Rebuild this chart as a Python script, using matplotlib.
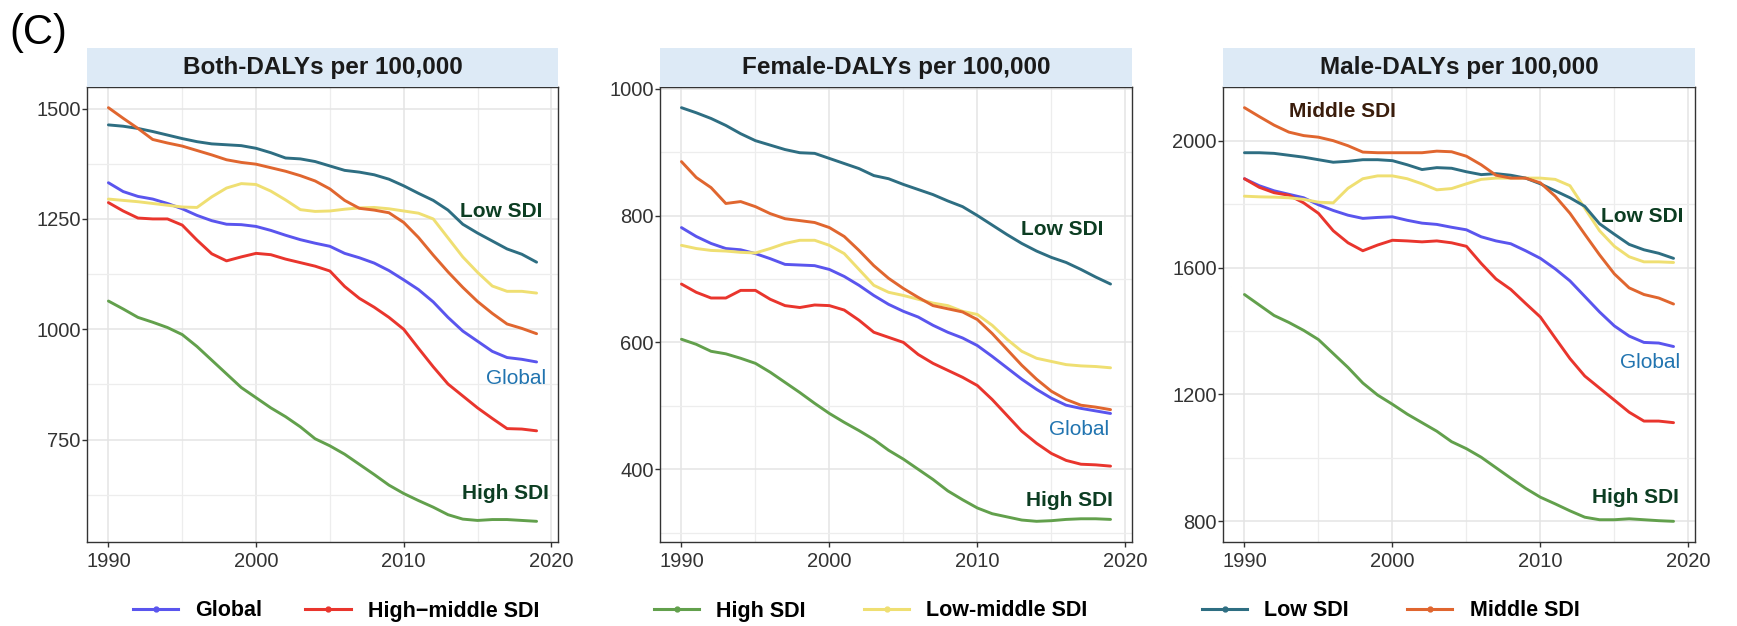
"""Three-panel DALY trend chart (both / female / male) by SDI group, 1990-2019."""

import matplotlib

matplotlib.use("Agg")
import matplotlib.pyplot as plt  # noqa: E402
from matplotlib.lines import Line2D  # noqa: E402

plt.rcParams["font.family"] = ["Liberation Sans", "DejaVu Sans"]

YEARS = list(range(1990, 2020))
SERIES = ["Global", "High\u2212middle SDI", "High SDI", "Low-middle SDI", "Low SDI", "Middle SDI"]
COLORS = ["#5A55EE", "#E9352D", "#62A04C", "#EFDF72", "#2E6E82", "#E0662F"]

# Both sexes, DALYs per 100,000
BOTH_GLOBAL = [1332, 1312, 1301, 1295, 1285, 1273, 1258, 1246, 1238, 1237,
               1233, 1224, 1213, 1203, 1195, 1188, 1172, 1162, 1150, 1133,
               1112, 1090, 1062, 1027, 996, 973, 950, 936, 932, 926]
BOTH_HIGH_MIDDLE = [1287, 1268, 1252, 1250, 1250, 1236, 1202, 1171, 1155, 1164,
                    1172, 1169, 1159, 1151, 1143, 1132, 1097, 1070, 1050, 1027,
                    1000, 957, 915, 876, 849, 822, 798, 775, 774, 770]
BOTH_HIGH = [1064, 1046, 1027, 1016, 1004, 988, 961, 930, 899, 868,
             845, 822, 802, 779, 752, 736, 717, 694, 671, 647,
             628, 612, 597, 580, 570, 567, 569, 569, 567, 565]
BOTH_LOW_MIDDLE = [1295, 1292, 1289, 1285, 1281, 1277, 1276, 1300, 1320, 1330,
                   1328, 1313, 1293, 1271, 1267, 1268, 1272, 1275, 1276, 1273,
                   1268, 1263, 1250, 1207, 1164, 1129, 1098, 1086, 1086, 1082]
BOTH_LOW = [1463, 1460, 1455, 1448, 1440, 1432, 1425, 1420, 1418, 1416,
            1410, 1400, 1388, 1386, 1380, 1370, 1360, 1356, 1350, 1340,
            1325, 1308, 1292, 1270, 1238, 1218, 1200, 1182, 1170, 1152]
BOTH_MIDDLE = [1502, 1478, 1455, 1430, 1422, 1415, 1405, 1395, 1384, 1378,
               1374, 1366, 1358, 1348, 1336, 1318, 1292, 1274, 1270, 1264,
               1242, 1208, 1168, 1130, 1095, 1063, 1036, 1012, 1002, 990]

# Female
FEMALE_GLOBAL = [781, 767, 756, 748, 746, 740, 732, 723, 722, 721,
                 715, 704, 690, 674, 660, 649, 640, 627, 616, 607,
                 595, 578, 560, 542, 526, 512, 501, 496, 492, 488]
FEMALE_HIGH_MIDDLE = [692, 679, 670, 670, 682, 682, 668, 658, 655, 659,
                      658, 651, 635, 616, 608, 600, 581, 567, 556, 545,
                      532, 510, 485, 460, 441, 425, 414, 408, 407, 405]
FEMALE_HIGH = [605, 597, 586, 582, 575, 567, 553, 537, 521, 504,
               488, 474, 461, 447, 430, 416, 400, 384, 366, 352,
               339, 330, 325, 320, 318, 319, 321, 322, 322, 321]
FEMALE_LOW_MIDDLE = [753, 748, 745, 744, 742, 741, 748, 756, 761, 761,
                     753, 740, 715, 690, 679, 674, 668, 662, 658, 649,
                     644, 627, 605, 586, 575, 570, 565, 563, 562, 560]
FEMALE_LOW = [970, 962, 953, 942, 929, 918, 911, 904, 899, 898,
              890, 882, 874, 863, 858, 849, 841, 833, 823, 814,
              800, 785, 770, 756, 744, 734, 726, 715, 703, 692]
FEMALE_MIDDLE = [885, 860, 844, 819, 822, 814, 803, 795, 792, 789,
                 781, 767, 745, 721, 701, 685, 671, 658, 653, 648,
                 636, 614, 589, 564, 542, 523, 510, 501, 498, 494]

# Male
MALE_GLOBAL = [1880, 1858, 1842, 1831, 1820, 1798, 1780, 1765, 1755, 1758,
               1760, 1749, 1740, 1736, 1727, 1719, 1697, 1684, 1675, 1653,
               1629, 1596, 1558, 1509, 1460, 1416, 1384, 1364, 1362, 1351]
MALE_HIGH_MIDDLE = [1880, 1853, 1836, 1828, 1804, 1771, 1716, 1678, 1653, 1671,
                    1686, 1684, 1681, 1684, 1678, 1667, 1613, 1564, 1531, 1487,
                    1444, 1378, 1313, 1258, 1220, 1182, 1144, 1116, 1116, 1111]
MALE_HIGH = [1515, 1482, 1449, 1427, 1402, 1373, 1329, 1285, 1236, 1198,
             1169, 1138, 1111, 1084, 1051, 1029, 1002, 969, 936, 904,
             876, 855, 833, 813, 805, 805, 808, 805, 802, 800]
MALE_LOW_MIDDLE = [1825, 1823, 1822, 1820, 1815, 1806, 1804, 1850, 1880, 1889,
                   1889, 1880, 1864, 1845, 1849, 1864, 1878, 1882, 1882, 1882,
                   1882, 1878, 1858, 1787, 1716, 1667, 1634, 1618, 1618, 1616]
MALE_LOW = [1962, 1962, 1960, 1954, 1948, 1940, 1932, 1935, 1940, 1940,
            1937, 1924, 1909, 1915, 1913, 1902, 1893, 1896, 1891, 1882,
            1864, 1842, 1820, 1793, 1738, 1705, 1673, 1656, 1645, 1629]
MALE_MIDDLE = [2104, 2076, 2049, 2027, 2016, 2011, 2000, 1984, 1964, 1962,
               1962, 1962, 1962, 1967, 1965, 1951, 1924, 1891, 1882, 1882,
               1867, 1825, 1771, 1705, 1640, 1580, 1536, 1515, 1504, 1485]

TITLES = ["Both-DALYs per 100,000", "Female-DALYs per 100,000", "Male-DALYs per 100,000"]
PANEL_DATA = [
    [BOTH_GLOBAL, BOTH_HIGH_MIDDLE, BOTH_HIGH, BOTH_LOW_MIDDLE, BOTH_LOW, BOTH_MIDDLE],
    [FEMALE_GLOBAL, FEMALE_HIGH_MIDDLE, FEMALE_HIGH, FEMALE_LOW_MIDDLE, FEMALE_LOW, FEMALE_MIDDLE],
    [MALE_GLOBAL, MALE_HIGH_MIDDLE, MALE_HIGH, MALE_LOW_MIDDLE, MALE_LOW, MALE_MIDDLE],
]
Y_TICKS = [[750, 1000, 1250, 1500], [400, 600, 800, 1000], [800, 1200, 1600, 2000]]
X_TICKS = [1990, 2000, 2010, 2020]
X_MINOR = [1995, 2005, 2015]

DARK_GREEN = "#0C3D22"
LABEL_STYLE = {
    "Low SDI": (DARK_GREEN, "bold"),
    "High SDI": (DARK_GREEN, "bold"),
    "Middle SDI": ("#3A1D0C", "bold"),
    "Global": ("#2174B0", "normal"),
}
# in-panel labels: (text, year, value)
PANEL_LABELS = [
    [("Low SDI", 2016.6, 1267), ("Global", 2017.6, 888), ("High SDI", 2016.9, 628)],
    [("Low SDI", 2015.7, 778), ("Global", 2016.9, 463), ("High SDI", 2016.2, 351)],
    [("Middle SDI", 1996.6, 2093), ("Low SDI", 2016.9, 1760),
     ("Global", 2017.4, 1302), ("High SDI", 2016.4, 876)],
]
# which two series go in the legend under each panel
LEGEND_SPLIT = [(0, 1), (2, 3), (4, 5)]

W, H = 1737, 626
PANEL_X = [(87, 558), (660, 1132), (1223, 1695)]
PANEL_TOP, PANEL_BOTTOM = 87, 542
STRIP_TOP = 48
LEGEND_X = [133, 654, 1202]
LEGEND_GAP = [2.0, 2.7, 2.7]
LEGEND_Y = 611

fig = plt.figure(figsize=(W / 100, H / 100), dpi=100)
fig.text(9 / W, 1 - 33 / H, "(C)", fontsize=30, ha="left", va="center")

for i, (x0, x1) in enumerate(PANEL_X):
    ax = fig.add_axes([x0 / W, 1 - PANEL_BOTTOM / H, (x1 - x0) / W,
                       (PANEL_BOTTOM - PANEL_TOP) / H])
    for values, color in zip(PANEL_DATA[i], COLORS):
        ax.plot(YEARS, values, color=color, linewidth=2.1, solid_capstyle="round")

    yt = Y_TICKS[i]
    step = yt[1] - yt[0]
    ax.set_yticks(yt)
    ax.set_yticks([yt[0] - step / 2] + [t + step / 2 for t in yt], minor=True)
    ax.set_xticks(X_TICKS)
    ax.set_xticks(X_MINOR, minor=True)

    # ggplot-style 5% expansion, set after the ticks so they cannot widen it
    lo = min(min(v) for v in PANEL_DATA[i])
    hi = max(max(v) for v in PANEL_DATA[i])
    pad = 0.05 * (hi - lo)
    ax.set_ylim(lo - pad, hi + pad)
    span = YEARS[-1] - YEARS[0]
    ax.set_xlim(YEARS[0] - 0.05 * span, YEARS[-1] + 0.05 * span)

    ax.grid(True, which="major", color="#E4E4E4", linewidth=1.1)
    ax.grid(True, which="minor", color="#EDEDED", linewidth=0.9)
    ax.set_axisbelow(True)
    ax.tick_params(which="major", labelsize=14.5, labelcolor="#333333", color="#333333",
                   length=3.5, width=1.0)
    ax.tick_params(axis="y", pad=1)
    ax.tick_params(axis="x", pad=3.5)
    ax.tick_params(which="minor", length=0)
    for s in ax.spines.values():
        s.set_color("#333333")
        s.set_linewidth(1.0)

    for text, xv, yv in PANEL_LABELS[i]:
        c, w = LABEL_STYLE[text]
        ax.text(xv, yv, text, color=c, fontweight=w, fontsize=15,
                ha="center", va="center")

    strip = fig.add_axes([x0 / W, 1 - PANEL_TOP / H, (x1 - x0) / W,
                          (PANEL_TOP - STRIP_TOP) / H])
    strip.set_facecolor("#DDEAF6")
    strip.set_xticks([])
    strip.set_yticks([])
    for s in strip.spines.values():
        s.set_visible(False)
    strip.text(0.5, 0.5, TITLES[i], transform=strip.transAxes, ha="center",
               va="center", fontsize=17.5, fontweight="bold", color="#1A1A1A")

    handles = [Line2D([0], [0], color=COLORS[k], linewidth=2.2, marker="o",
                      markersize=3.5) for k in LEGEND_SPLIT[i]]
    labels = [SERIES[k] for k in LEGEND_SPLIT[i]]
    fig.legend(handles, labels, loc="center left",
               bbox_to_anchor=(LEGEND_X[i] / W, 1 - LEGEND_Y / H),
               ncol=2, frameon=False, borderaxespad=0, borderpad=0,
               handlelength=2.1, handletextpad=0.8, columnspacing=LEGEND_GAP[i],
               numpoints=1, prop={"size": 15.5, "weight": "bold"})

fig.savefig("out.png", dpi=100)
